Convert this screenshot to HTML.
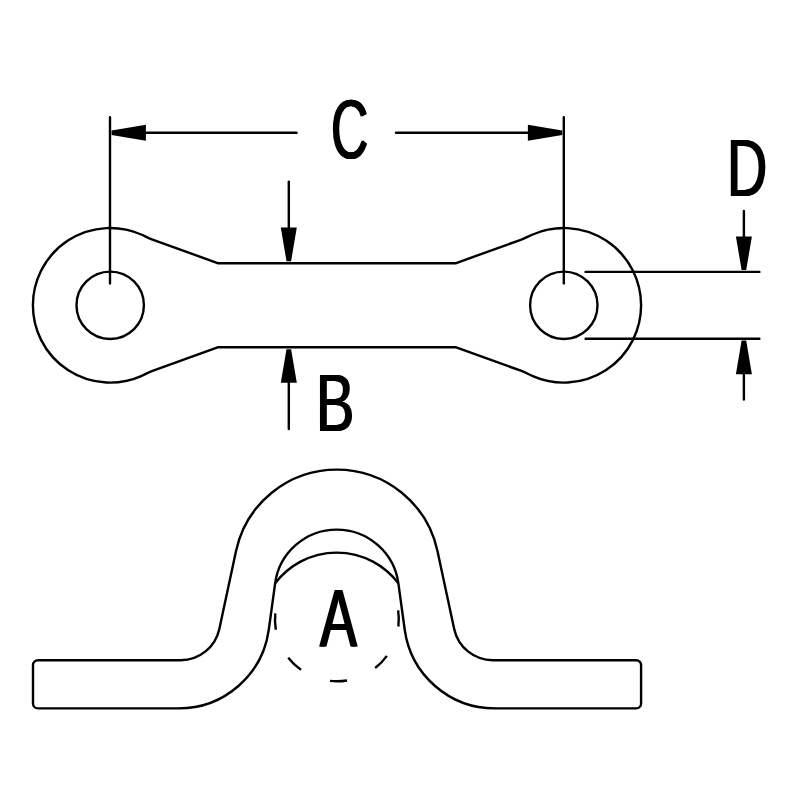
<!DOCTYPE html>
<html lang="en">
<head>
<meta charset="utf-8">
<title>Pad eye dimension drawing</title>
<style>
html,body{margin:0;padding:0;background:#fff;}
body{width:800px;height:800px;overflow:hidden;}
svg{display:block;position:absolute;left:0;top:0;}
.t{position:absolute;font-family:"Liberation Sans",sans-serif;font-size:100px;line-height:100px;color:#000;transform-origin:0 0;white-space:nowrap;margin:0;padding:0;}
</style>
</head>
<body>
<svg width="800" height="800" viewBox="0 0 800 800">
<rect width="800" height="800" fill="#fff"/>
<g fill="none" stroke="#000" stroke-width="2.4" stroke-linecap="butt" stroke-linejoin="round">
<path d="M218.30,263.30 L153.20,239.86 C148.97,238.34 145.32,236.29 141.20,234.49 A77.3,77.3 0 1 0 141.20,376.11 C145.32,374.31 148.97,372.16 153.20,370.64 L218.30,347.20 L455.50,347.20 L520.80,370.71 C525.03,372.23 528.68,374.31 532.80,376.11 A77.3,77.3 0 1 0 532.80,234.49 C528.68,236.29 525.03,238.27 520.80,239.79 L455.50,263.30 Z"/>
<circle cx="110.2" cy="305.3" r="33.7"/>
<circle cx="563.8" cy="305.3" r="33.7"/>
<g stroke-linecap="round">
<path d="M110,117.2 V283.4 M563.8,117.2 V283.4"/>
<path d="M145,132.7 H296.6 M396,132.7 H529"/>
<path d="M288.8,181.6 V229 M288.8,382 V429"/>
<path d="M743.9,211 V237 M743.9,373 V399.6"/>
<path d="M585.6,271.9 H759.4 M585.6,338.8 H759.4"/>
</g>
<path d="M38.00,660.20 L180.70,660.20 A39.5,39.5 0 0 0 219.32,628.98 L236.04,551.01 A103.0,103.0 0 0 1 437.46,551.01 L454.18,628.98 A39.5,39.5 0 0 0 492.80,660.20 L636.10,660.20 A5,5 0 0 1 641.10,665.20 L641.10,703.40 A5,5 0 0 1 636.10,708.40 L494.89,708.40 A91,91 0 0 1 404.73,629.75 L398.37,583.36 A62.2,62.2 0 0 0 275.13,583.36 L268.77,629.75 A91,91 0 0 1 178.61,708.40 L38.00,708.40 A5,5 0 0 1 33.00,703.40 L33.00,665.20 A5,5 0 0 1 38.00,660.20 Z"/>
<path d="M275.13,583.36 A77.11,77.11 0 0 1 398.37,583.36"/>
<path d="M398.14,610.36 A61.9,61.9 0 0 1 398.39,626.51 M386.91,655.87 A61.9,61.9 0 0 1 375.18,668.04 M347.01,680.47 A61.9,61.9 0 0 1 330.00,680.91 M301.04,669.86 A61.9,61.9 0 0 1 288.26,657.68 M275.87,629.72 A61.9,61.9 0 0 1 275.30,613.36" stroke-width="2.4"/>
</g>
<g fill="#000" stroke="none">
<path d="M111.60,130.40 L145.90,124.70 L145.90,140.70 L111.60,135.00 Z"/>
<path d="M562.20,135.00 L527.90,140.70 L527.90,124.70 L562.20,130.40 Z"/>
<path d="M286.50,261.20 L280.80,227.60 L296.80,227.60 L291.10,261.20 Z"/>
<path d="M291.10,349.20 L296.80,382.80 L280.80,382.80 L286.50,349.20 Z"/>
<path d="M741.60,270.00 L735.90,236.40 L751.90,236.40 L746.20,270.00 Z"/>
<path d="M746.20,340.60 L751.90,374.20 L735.90,374.20 L741.60,340.60 Z"/>
</g>
</svg>
<div class="t" style="left:330.97px;top:86.71px;transform:scale(0.5167,0.8324);text-shadow:1.55px 0 0 #000,-1.55px 0 0 #000">C</div>
<div class="t" style="left:727.24px;top:125.63px;transform:scale(0.5580,0.8225);text-shadow:1.25px 0 0 #000,-1.25px 0 0 #000">D</div>
<div class="t" style="left:315.85px;top:360.72px;transform:scale(0.5748,0.8232);text-shadow:1.22px 0 0 #000,-1.22px 0 0 #000">B</div>
<div class="t" style="left:320.12px;top:575.74px;transform:scale(0.5530,0.8212);text-shadow:1.81px 0 0 #000,-1.81px 0 0 #000">A</div>
</body>
</html>
